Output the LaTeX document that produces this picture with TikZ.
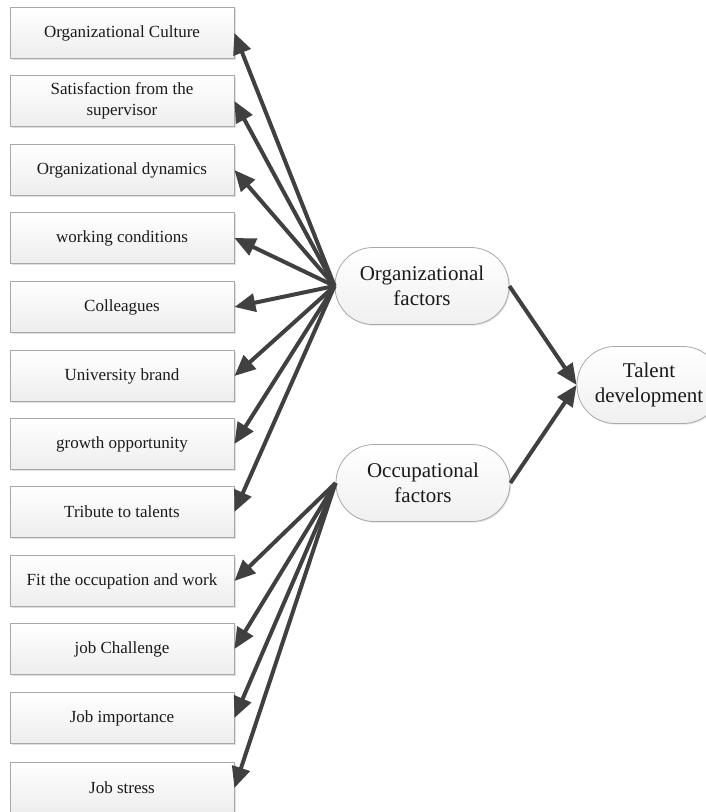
\documentclass[tikz,border=0pt]{standalone}
\usepackage{fontspec}
\setmainfont{Liberation Serif}
\usetikzlibrary{shadows,arrows.meta}
\definecolor{arr}{HTML}{404040}
\definecolor{bord}{HTML}{A8A8A8}
\definecolor{txt}{HTML}{1A1A1A}
\tikzset{
  factorbox/.style={draw=bord, line width=0.8pt, top color=white, bottom color=black!7,
    minimum width=224pt, minimum height=51pt, inner sep=0pt, align=center, text=txt,
    font=\fontsize{17}{21}\selectfont,
    drop shadow={shadow xshift=1.5pt, shadow yshift=-1.5pt, fill=black!12, opacity=1}},
  bignode/.style={draw=bord, line width=0.8pt, top color=white, bottom color=black!6,
    rounded corners=38pt, minimum height=77pt, inner sep=0pt, align=center, text=txt,
    font=\fontsize{21}{25}\selectfont,
    drop shadow={shadow xshift=1.2pt, shadow yshift=-1.2pt, fill=black!10, opacity=1}},
  conn/.style={draw=arr, line width=4pt, -{Triangle[length=21pt,width=18pt]}}
}
\begin{document}
\begin{tikzpicture}[x=1pt,y=-1pt]
\useasboundingbox (0,0) rectangle (705,812);
\node[factorbox] (b1) at (122,33) {Organizational Culture};
\node[factorbox] (b2) at (122,101) {Satisfaction from the\\supervisor};
\node[factorbox] (b3) at (122,170) {Organizational dynamics};
\node[factorbox] (b4) at (122,238) {working conditions};
\node[factorbox] (b5) at (122,307) {Colleagues};
\node[factorbox] (b6) at (122,376) {University brand};
\node[factorbox] (b7) at (122,444) {growth opportunity};
\node[factorbox] (b8) at (122,512) {Tribute to talents};
\node[factorbox] (b9) at (122,581) {Fit the occupation and work};
\node[factorbox] (b10) at (122,649) {job Challenge};
\node[factorbox] (b11) at (122,718) {Job importance};
\node[factorbox] (b12) at (122,788) {Job stress};
\node[bignode, minimum width=174pt] (org) at (422,286) {Organizational\\factors};
\node[bignode, minimum width=174pt] (occ) at (423,483) {Occupational\\factors};
\node[bignode, minimum width=144pt] (tal) at (649,385) {Talent\\development};
\foreach \i in {1,...,8} \draw[conn] (org.west) -- (b\i.east);
\foreach \i in {9,...,12} \draw[conn] (occ.west) -- (b\i.east);
\draw[conn] (org.east) -- (tal.west);
\draw[conn] (occ.east) -- (tal.west);
\end{tikzpicture}
\end{document}
